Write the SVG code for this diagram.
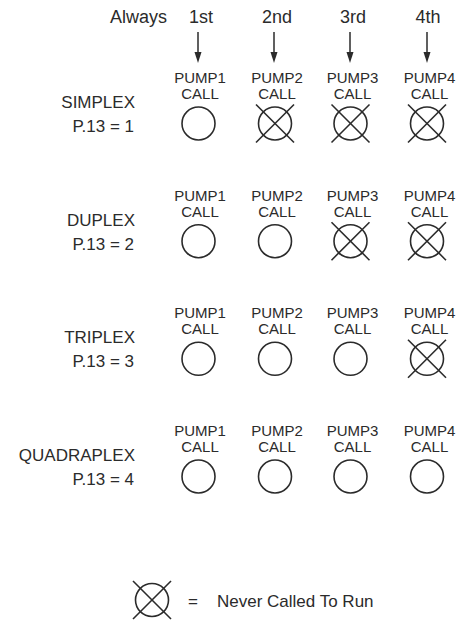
<svg xmlns="http://www.w3.org/2000/svg" width="470" height="620" viewBox="0 0 470 620">
<style>
text{font-family:"Liberation Sans",Arial,sans-serif;fill:#2b2b2b}
.h{font-size:18px;text-anchor:middle}
.p{font-size:15px;text-anchor:middle}
.l{font-size:17px;text-anchor:end}
.c{fill:none;stroke:#2b2b2b;stroke-width:1.6}
.x{stroke:#2b2b2b;stroke-width:1.6}
.a{stroke:#2b2b2b;stroke-width:1.5}
</style>
<defs>
<marker id="ah" viewBox="0 0 8 12" refX="4" refY="12" markerWidth="8" markerHeight="12" markerUnits="userSpaceOnUse" orient="auto-start-reverse">
<path d="M0,0 L8,0 L4,12 Z" fill="#2b2b2b" transform="rotate(0)"/>
</marker>
<g id="o"><circle class="c" r="16.5"/></g>
<g id="xo"><circle class="c" r="16.5"/><line class="x" x1="-19" y1="-19" x2="19" y2="19"/><line class="x" x1="19" y1="-19" x2="-19" y2="19"/></g>
</defs>
<g id="header">
<text x="167" y="23" style="font-size:18px;text-anchor:end">Always</text>
<text class="h" x="201" y="23">1st</text>
<text class="h" x="277" y="23">2nd</text>
<text class="h" x="353" y="23">3rd</text>
<text class="h" x="428" y="23">4th</text>
</g>
<g id="connectors">
<line class="a" x1="198" y1="32" x2="198" y2="52"/><path d="M194.5,52 L201.5,52 L198,63 Z" fill="#2b2b2b"/>
<line class="a" x1="274" y1="32" x2="274" y2="52"/><path d="M270.5,52 L277.5,52 L274,63 Z" fill="#2b2b2b"/>
<line class="a" x1="350" y1="32" x2="350" y2="52"/><path d="M346.5,52 L353.5,52 L350,63 Z" fill="#2b2b2b"/>
<line class="a" x1="427" y1="32" x2="427" y2="52"/><path d="M423.5,52 L430.5,52 L427,63 Z" fill="#2b2b2b"/>
</g>
<g id="simplex">
<text class="l" x="135" y="108">SIMPLEX</text>
<text class="l" x="134" y="132">P.13 = 1</text>
<text class="p" x="200" y="83">PUMP1</text><text class="p" x="200" y="99">CALL</text>
<text class="p" x="277" y="83">PUMP2</text><text class="p" x="277" y="99">CALL</text>
<text class="p" x="352.5" y="83">PUMP3</text><text class="p" x="352.5" y="99">CALL</text>
<text class="p" x="429.5" y="83">PUMP4</text><text class="p" x="429.5" y="99">CALL</text>
<use href="#o" x="198.5" y="123.5"/>
<use href="#xo" x="275" y="123.5"/>
<use href="#xo" x="350.5" y="123.5"/>
<use href="#xo" x="427" y="123.5"/>
</g>
<g id="duplex" transform="translate(0,117.7)">
<text class="l" x="135" y="108">DUPLEX</text>
<text class="l" x="134" y="132">P.13 = 2</text>
<text class="p" x="200" y="83">PUMP1</text><text class="p" x="200" y="99">CALL</text>
<text class="p" x="277" y="83">PUMP2</text><text class="p" x="277" y="99">CALL</text>
<text class="p" x="352.5" y="83">PUMP3</text><text class="p" x="352.5" y="99">CALL</text>
<text class="p" x="429.5" y="83">PUMP4</text><text class="p" x="429.5" y="99">CALL</text>
<use href="#o" x="198.5" y="123.5"/>
<use href="#o" x="275" y="123.5"/>
<use href="#xo" x="350.5" y="123.5"/>
<use href="#xo" x="427" y="123.5"/>
</g>
<g id="triplex" transform="translate(0,235.3)">
<text class="l" x="135" y="108">TRIPLEX</text>
<text class="l" x="134" y="132">P.13 = 3</text>
<text class="p" x="200" y="83">PUMP1</text><text class="p" x="200" y="99">CALL</text>
<text class="p" x="277" y="83">PUMP2</text><text class="p" x="277" y="99">CALL</text>
<text class="p" x="352.5" y="83">PUMP3</text><text class="p" x="352.5" y="99">CALL</text>
<text class="p" x="429.5" y="83">PUMP4</text><text class="p" x="429.5" y="99">CALL</text>
<use href="#o" x="198.5" y="123.5"/>
<use href="#o" x="275" y="123.5"/>
<use href="#o" x="350.5" y="123.5"/>
<use href="#xo" x="427" y="123.5"/>
</g>
<g id="quadraplex" transform="translate(0,353)">
<text class="l" x="135" y="108">QUADRAPLEX</text>
<text class="l" x="134" y="132">P.13 = 4</text>
<text class="p" x="200" y="83">PUMP1</text><text class="p" x="200" y="99">CALL</text>
<text class="p" x="277" y="83">PUMP2</text><text class="p" x="277" y="99">CALL</text>
<text class="p" x="352.5" y="83">PUMP3</text><text class="p" x="352.5" y="99">CALL</text>
<text class="p" x="429.5" y="83">PUMP4</text><text class="p" x="429.5" y="99">CALL</text>
<use href="#o" x="198.5" y="123.5"/>
<use href="#o" x="275" y="123.5"/>
<use href="#o" x="350.5" y="123.5"/>
<use href="#o" x="427" y="123.5"/>
</g>
<g id="legend">
<use href="#xo" x="152" y="600"/>
<text x="188" y="607" style="font-size:17px">=</text>
<text x="217" y="607" style="font-size:17px">Never Called To Run</text>
</g>
</svg>
